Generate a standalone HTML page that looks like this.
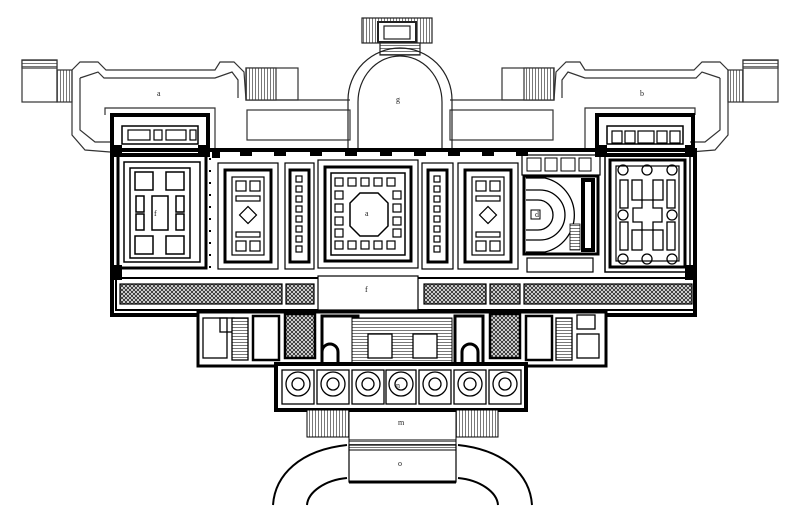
<!DOCTYPE html>
<html><head><meta charset="utf-8"><style>
html,body{margin:0;padding:0;background:#fff;width:800px;height:518px;overflow:hidden}
svg{display:block}
text{font-family:"Liberation Serif",serif;font-size:8px;fill:#222}
</style></head><body>
<svg width="800" height="518" viewBox="0 0 800 518" xmlns="http://www.w3.org/2000/svg">
<defs>
<pattern id="h" width="4" height="4" patternUnits="userSpaceOnUse">
<rect width="4" height="4" fill="#fff"/><path d="M0 0L4 4M4 0L0 4" stroke="#333" stroke-width="1"/>
</pattern>
<pattern id="st" width="3" height="10" patternUnits="userSpaceOnUse"><rect width="3" height="10" fill="#fff"/><line x1="0.5" y1="0" x2="0.5" y2="10" stroke="#555" stroke-width="0.8"/></pattern>
<pattern id="sth" width="10" height="3" patternUnits="userSpaceOnUse"><rect width="10" height="3" fill="#fff"/><line x1="0" y1="0.5" x2="10" y2="0.5" stroke="#555" stroke-width="0.8"/></pattern>
<g id="half" fill="none" stroke="#333" stroke-width="1.2">
 <!-- platform & stairs -->
 <rect x="22" y="60" width="35" height="42"/>
 <rect x="22" y="60" width="35" height="8" fill="url(#sth)"/>
 <rect x="57" y="70" width="15" height="32" fill="url(#st)"/>
 <!-- terrace outer -->
 <path d="M72 70 L80 62 L98 62 L106 70 L215 70 L220 62 L234 62 L244 72 L246 100 L350 100"/>
 <path d="M80 78 L98 72 L104 78 L215 78 L232 72 L238 80 L238 98"/>
 <path d="M72 70 L72 135 L85 150 L110 152"/>
 <path d="M80 78 L80 130 L95 142 L110 142"/>
 <path d="M105 115 L105 108 L215 108 L215 150"/>
 <rect x="247" y="110" width="103" height="30"/>
 <rect x="246" y="68" width="52" height="32"/>
 <rect x="246" y="68" width="30" height="32" fill="url(#st)"/>
</g>
</defs>
<rect width="800" height="518" fill="#fff"/>
<use href="#half"/>
<use href="#half" transform="translate(800,0) scale(-1,1)"/>
<g fill="none" stroke="#222" stroke-width="1.2">
 <!-- top portico -->
 <rect x="362" y="18" width="70" height="25" fill="url(#st)"/>
 <rect x="378" y="22" width="38" height="20" fill="#fff" stroke-width="2"/>
 <rect x="384" y="26" width="26" height="13"/>
 <rect x="380" y="43" width="40" height="12" fill="url(#sth)"/>
 <!-- great arch -->
 <path d="M348 150 L348 100 A52 52 0 0 1 452 100 L452 150"/>
 <path d="M358 150 L358 102 A42 46 0 0 1 442 102 L442 150"/>
 <line x1="230" y1="150" x2="570" y2="150"/>
</g>
<text x="396" y="102">g</text><text x="157" y="96">a</text><text x="640" y="96">b</text>
<!-- main building -->
<g fill="none" stroke="#000">
 <rect x="112" y="150" width="583" height="165" stroke-width="4"/>
 <rect x="112" y="115" width="96" height="40" stroke-width="4"/>
 <rect x="597" y="115" width="96" height="40" stroke-width="4"/>
 <rect x="122" y="126" width="76" height="18" stroke-width="1.5"/>
 <rect x="607" y="126" width="76" height="18" stroke-width="1.5"/>
 <g stroke-width="1.2">
  <rect x="128" y="130" width="22" height="10"/><rect x="154" y="130" width="8" height="10"/><rect x="166" y="130" width="20" height="10"/><rect x="190" y="130" width="6" height="10"/>
  <rect x="612" y="131" width="10" height="12"/><rect x="625" y="131" width="10" height="12"/><rect x="638" y="131" width="16" height="12"/><rect x="657" y="131" width="10" height="12"/><rect x="670" y="131" width="10" height="12"/>
 </g>
 <!-- left room f -->
 <rect x="118" y="155" width="88" height="113" stroke-width="3"/>
 <rect x="124" y="162" width="76" height="100" stroke-width="1.5"/>
 <g stroke-width="1.5">
  <rect x="135" y="172" width="18" height="18"/><rect x="166" y="172" width="18" height="18"/>
  <rect x="135" y="236" width="18" height="18"/><rect x="166" y="236" width="18" height="18"/>
  <rect x="152" y="196" width="16" height="34"/>
  <rect x="136" y="196" width="8" height="16"/><rect x="176" y="196" width="8" height="16"/>
  <rect x="136" y="214" width="8" height="16"/><rect x="176" y="214" width="8" height="16"/>
  <path d="M130 168 H190 V258 H130 Z"/>
 </g>
 <line x1="210" y1="158" x2="210" y2="270" stroke-width="2" stroke-dasharray="2 10"/>
 <!-- room 2 -->
 <rect x="218" y="163" width="60" height="106" stroke-width="1.2"/>
 <rect x="225" y="170" width="46" height="92" stroke-width="3"/>
 <rect x="232" y="177" width="32" height="78" stroke-width="1.2"/>
 <g stroke-width="1.2"><rect x="236" y="181" width="10" height="10"/><rect x="250" y="181" width="10" height="10"/><rect x="236" y="196" width="24" height="5"/>
 <rect x="236" y="232" width="24" height="5"/><rect x="236" y="241" width="10" height="10"/><rect x="250" y="241" width="10" height="10"/>
 <rect x="242" y="209" width="12" height="12" transform="rotate(45 248 215)"/></g>
 <!-- room 3 -->
 <rect x="285" y="163" width="29" height="106" stroke-width="1.2"/>
 <rect x="290" y="170" width="19" height="92" stroke-width="3"/>
 <g stroke-width="1.2"><rect x="296" y="176" width="6" height="6"/><rect x="296" y="186" width="6" height="6"/><rect x="296" y="196" width="6" height="6"/><rect x="296" y="206" width="6" height="6"/><rect x="296" y="216" width="6" height="6"/><rect x="296" y="226" width="6" height="6"/><rect x="296" y="236" width="6" height="6"/><rect x="296" y="246" width="6" height="6"/></g>
 <!-- main hall a -->
 <rect x="318" y="160" width="100" height="108" stroke-width="1.2"/>
 <rect x="325" y="167" width="86" height="94" stroke-width="3"/>
 <rect x="331" y="173" width="74" height="82" stroke-width="1.5"/>
 <g stroke-width="1.2">
  <rect x="335" y="178" width="8" height="8"/><rect x="348" y="178" width="8" height="8"/><rect x="361" y="178" width="8" height="8"/><rect x="374" y="178" width="8" height="8"/><rect x="387" y="178" width="8" height="8"/>
  <rect x="335" y="241" width="8" height="8"/><rect x="348" y="241" width="8" height="8"/><rect x="361" y="241" width="8" height="8"/><rect x="374" y="241" width="8" height="8"/><rect x="387" y="241" width="8" height="8"/>
  <rect x="335" y="191" width="8" height="8"/><rect x="335" y="204" width="8" height="8"/><rect x="335" y="217" width="8" height="8"/><rect x="335" y="229" width="8" height="8"/>
  <rect x="393" y="191" width="8" height="8"/><rect x="393" y="204" width="8" height="8"/><rect x="393" y="217" width="8" height="8"/><rect x="393" y="229" width="8" height="8"/>
  <path d="M360 193 L378 193 L388 203 L388 226 L378 236 L360 236 L350 226 L350 203 Z" stroke-width="1.5"/>
 </g>
 <!-- room 4 -->
 <rect x="422" y="163" width="31" height="106" stroke-width="1.2"/>
 <rect x="428" y="170" width="19" height="92" stroke-width="3"/>
 <g stroke-width="1.2"><rect x="434" y="176" width="6" height="6"/><rect x="434" y="186" width="6" height="6"/><rect x="434" y="196" width="6" height="6"/><rect x="434" y="206" width="6" height="6"/><rect x="434" y="216" width="6" height="6"/><rect x="434" y="226" width="6" height="6"/><rect x="434" y="236" width="6" height="6"/><rect x="434" y="246" width="6" height="6"/></g>
 <!-- room 5 -->
 <rect x="458" y="163" width="60" height="106" stroke-width="1.2"/>
 <rect x="465" y="170" width="46" height="92" stroke-width="3"/>
 <rect x="472" y="177" width="32" height="78" stroke-width="1.2"/>
 <g stroke-width="1.2"><rect x="476" y="181" width="10" height="10"/><rect x="490" y="181" width="10" height="10"/><rect x="476" y="196" width="24" height="5"/>
 <rect x="476" y="232" width="24" height="5"/><rect x="476" y="241" width="10" height="10"/><rect x="490" y="241" width="10" height="10"/>
 <rect x="482" y="209" width="12" height="12" transform="rotate(45 488 215)"/></g>
 <!-- stair room d -->
 <rect x="522" y="155" width="78" height="20" stroke-width="1.2"/>
 <rect x="527" y="158" width="14" height="13" stroke-width="1"/><rect x="545" y="158" width="12" height="13" stroke-width="1"/><rect x="561" y="158" width="14" height="13" stroke-width="1"/><rect x="579" y="158" width="12" height="13" stroke-width="1"/>
 <rect x="524" y="176" width="74" height="78" stroke-width="3"/>
 <path d="M526 178 H545 A38 38 0 0 1 545 252 H526" stroke-width="1.3"/>
 <path d="M526 190 H540 A25 25 0 0 1 540 240 H526" stroke-width="1.3"/>
 <path d="M526 200 H538 A14 14 0 0 1 538 230 H526" stroke-width="1.3"/>
 <rect x="531" y="210" width="9" height="9" stroke-width="1"/>
 <rect x="583" y="180" width="10" height="70" stroke-width="4"/>
 <rect x="570" y="224" width="10" height="26" fill="url(#sth)" stroke-width="0.8"/>
 <rect x="527" y="258" width="66" height="14" stroke-width="1.2"/>
 <!-- right room -->
 <rect x="605" y="155" width="85" height="117" stroke-width="1.5"/>
 <rect x="610" y="160" width="75" height="107" stroke-width="3"/>
 <rect x="616" y="166" width="63" height="95" stroke-width="1.2"/>
 <g stroke-width="1.3">
  <circle cx="623" cy="170" r="5"/><circle cx="647" cy="170" r="5"/><circle cx="672" cy="170" r="5"/>
  <circle cx="623" cy="215" r="5"/><circle cx="672" cy="215" r="5"/>
  <circle cx="623" cy="259" r="5"/><circle cx="647" cy="259" r="5"/><circle cx="672" cy="259" r="5"/>
  <rect x="620" y="180" width="8" height="28"/><rect x="620" y="222" width="8" height="28"/>
  <rect x="667" y="180" width="8" height="28"/><rect x="667" y="222" width="8" height="28"/>
  <rect x="632" y="180" width="10" height="20"/><rect x="653" y="180" width="10" height="20"/>
  <rect x="632" y="230" width="10" height="20"/><rect x="653" y="230" width="10" height="20"/>
  <path d="M642 200 H653 V208 H662 V222 H653 V230 H642 V222 H633 V208 H642 Z"/>
 </g>
 <!-- corridor band -->
 <rect x="116" y="278" width="580" height="32" stroke-width="2"/>
 <rect x="120" y="284" width="162" height="20" fill="url(#h)" stroke-width="1.2"/>
 <rect x="286" y="284" width="28" height="20" fill="url(#h)" stroke-width="1.2"/>
 <rect x="318" y="276" width="100" height="34" fill="#fff" stroke-width="1.2"/>
 <rect x="424" y="284" width="62" height="20" fill="url(#h)" stroke-width="1.2"/>
 <rect x="490" y="284" width="30" height="20" fill="url(#h)" stroke-width="1.2"/>
 <rect x="524" y="284" width="168" height="20" fill="url(#h)" stroke-width="1.2"/>
 <!-- lower wings -->
 <rect x="198" y="312" width="408" height="54" stroke-width="3" fill="#fff"/>
 <g stroke-width="1.3">
  <rect x="203" y="318" width="24" height="40"/><rect x="220" y="318" width="14" height="14"/>
  <rect x="232" y="318" width="16" height="42" fill="url(#sth)"/>
  <rect x="253" y="316" width="26" height="44" stroke-width="2.5"/>
  <rect x="285" y="314" width="30" height="44" fill="url(#h)" stroke-width="2.5"/>
  <rect x="322" y="316" width="36" height="48" stroke-width="3"/>
  <rect x="352" y="318" width="100" height="48" fill="url(#sth)" stroke-width="1"/>
  <rect x="368" y="334" width="24" height="24" fill="#fff"/><rect x="413" y="334" width="24" height="24" fill="#fff"/>
  <rect x="455" y="316" width="28" height="48" stroke-width="3"/>
  <rect x="490" y="314" width="30" height="44" fill="url(#h)" stroke-width="2.5"/>
  <rect x="526" y="316" width="26" height="44" stroke-width="2.5"/>
  <rect x="556" y="318" width="16" height="42" fill="url(#sth)"/>
  <rect x="577" y="315" width="18" height="14"/><rect x="577" y="334" width="22" height="24"/>
 </g>
 <path d="M322 364 V352 A8 8 0 0 1 338 352 V364" stroke-width="3"/>
 <path d="M462 364 V352 A8 8 0 0 1 478 352 V364" stroke-width="3"/>
 <!-- portico -->
 <rect x="276" y="364" width="250" height="46" stroke-width="4" fill="#fff"/>
 <g stroke-width="1.3">
  <rect x="282" y="370" width="32" height="34"/><circle cx="298" cy="384" r="12"/><circle cx="298" cy="384" r="6"/>
  <rect x="317" y="370" width="32" height="34"/><circle cx="333" cy="384" r="12"/><circle cx="333" cy="384" r="6"/>
  <rect x="352" y="370" width="32" height="34"/><circle cx="368" cy="384" r="12"/><circle cx="368" cy="384" r="6"/>
  <rect x="386" y="370" width="30" height="34"/><circle cx="401" cy="384" r="12"/><circle cx="401" cy="384" r="6"/>
  <rect x="419" y="370" width="32" height="34"/><circle cx="435" cy="384" r="12"/><circle cx="435" cy="384" r="6"/>
  <rect x="454" y="370" width="32" height="34"/><circle cx="470" cy="384" r="12"/><circle cx="470" cy="384" r="6"/>
  <rect x="489" y="370" width="32" height="34"/><circle cx="505" cy="384" r="12"/><circle cx="505" cy="384" r="6"/>
 </g>
 <!-- steps & porch -->
 <rect x="307" y="410" width="42" height="27" fill="url(#st)" stroke-width="1"/>
 <rect x="456" y="410" width="42" height="27" fill="url(#st)" stroke-width="1"/>
 <rect x="349" y="410" width="107" height="30" stroke-width="1"/>
 <rect x="349" y="440" width="107" height="10" fill="url(#sth)" stroke-width="1"/>
 <rect x="349" y="445" width="107" height="37" stroke-width="1.2"/>
 <line x1="349" y1="482" x2="456" y2="482" stroke-width="3"/>
 <path d="M347 445 C300 450 275 475 273 505" stroke-width="2"/>
 <path d="M347 478 C325 480 308 492 307 505" stroke-width="2"/>
 <path d="M458 445 C505 450 530 475 532 505" stroke-width="2"/>
 <path d="M458 478 C480 480 497 492 498 505" stroke-width="2"/>
</g>
<g fill="#000">
 <rect x="212" y="150" width="8" height="8"/><rect x="240" y="150" width="12" height="6"/><rect x="274" y="150" width="12" height="6"/><rect x="310" y="150" width="12" height="6"/><rect x="345" y="150" width="12" height="6"/><rect x="380" y="150" width="12" height="6"/><rect x="414" y="150" width="12" height="6"/><rect x="448" y="150" width="12" height="6"/><rect x="482" y="150" width="12" height="6"/><rect x="516" y="150" width="12" height="6"/>
 <rect x="112" y="145" width="10" height="12"/><rect x="198" y="145" width="10" height="12"/><rect x="597" y="145" width="10" height="12"/><rect x="685" y="145" width="10" height="12"/>
 <rect x="112" y="265" width="10" height="15"/><rect x="685" y="265" width="10" height="15"/>
</g>
<text x="154" y="216">f</text><text x="365" y="216">a</text><text x="535" y="217">d</text><text x="365" y="292">f</text><text x="398" y="425">m</text><text x="398" y="466">o</text><text x="396" y="388">n</text>
</svg>
</body></html>
